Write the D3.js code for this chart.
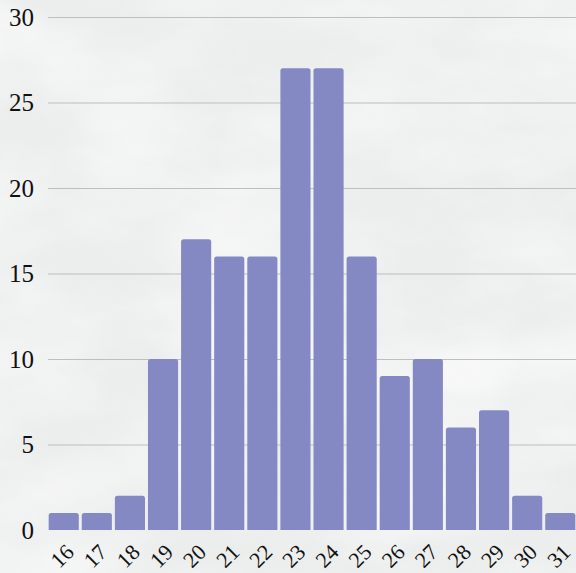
<!DOCTYPE html>
<html>
<head>
<meta charset="utf-8">
<script src="https://cdn.jsdelivr.net/npm/d3@7"></script>
<style>
  html, body { margin: 0; padding: 0; background: #f0f1f1; }
  svg { display: block; }
</style>
</head>
<body>
<div id="chart"></div>
<script>
// Distribution counts per value
const categories = ["16","17","18","19","20","21","22","23","24","25","26","27","28","29","30","31"];
const counts = [1, 1, 2, 10, 17, 16, 16, 27, 27, 16, 9, 10, 6, 7, 2, 1];
const yTicks = [0, 5, 10, 15, 20, 25, 30];

const width = 576, height = 573;
const margin = { top: 17, right: 0, bottom: 43, left: 48 };

const svg = d3.select("#chart").append("svg")
  .attr("width", width)
  .attr("height", height);

// Soft marbled paper background
const defs = svg.append("defs");
const f = defs.append("filter").attr("id", "marble")
  .attr("x", 0).attr("y", 0).attr("width", "100%").attr("height", "100%");
f.append("feTurbulence").attr("type", "fractalNoise")
  .attr("baseFrequency", "0.006 0.012").attr("numOctaves", 4).attr("seed", 7).attr("result", "noise");
f.append("feColorMatrix").attr("in", "noise").attr("type", "matrix")
  .attr("values", "0 0 0 0 1  0 0 0 0 1  0 0 0 0 1  0 0 0 -1.6 1.1")
  .attr("result", "light");
svg.append("rect").attr("width", width).attr("height", height).attr("fill", "#eceded");
svg.append("rect").attr("width", width).attr("height", height).attr("fill", "#ffffff")
  .attr("filter", "url(#marble)").attr("opacity", 0.7);

const x = d3.scaleBand()
  .domain(categories)
  .range([margin.left, width - margin.right])
  .paddingInner(0.09)
  .paddingOuter(0.02);

const y = d3.scaleLinear()
  .domain([0, 30])
  .range([height - margin.bottom, margin.top]);

// Horizontal gridlines
svg.append("g")
  .selectAll("line")
  .data(yTicks.filter(d => d > 0))
  .join("line")
  .attr("x1", margin.left)
  .attr("x2", width)
  .attr("y1", d => y(d) + 0.5)
  .attr("y2", d => y(d) + 0.5)
  .attr("stroke", "#bdbebf")
  .attr("stroke-width", 1);

// Y axis labels
const yAxis = d3.axisLeft(y).tickValues(yTicks).tickSize(0).tickPadding(0).tickFormat(d3.format("d"));
svg.append("g")
  .attr("transform", `translate(${margin.left - 14},0)`)
  .call(yAxis)
  .call(g => g.select(".domain").remove())
  .selectAll("text")
  .attr("font-family", "'Liberation Serif', 'DejaVu Serif', serif")
  .attr("font-size", 25)
  .attr("fill", "#111");

// Bars with slightly rounded tops
const r = 2.5;
svg.append("g")
  .selectAll("path")
  .data(categories.map((c, i) => ({ c, v: counts[i] })))
  .join("path")
  .attr("d", d => {
    const x0 = x(d.c), w = x.bandwidth();
    const y0 = y(d.v), yb = y(0);
    return `M${x0},${yb} V${y0 + r} Q${x0},${y0} ${x0 + r},${y0} H${x0 + w - r} Q${x0 + w},${y0} ${x0 + w},${y0 + r} V${yb} Z`;
  })
  .attr("fill", "#8589c3");

// X axis labels, rotated
const xAxis = d3.axisBottom(x).tickSize(0).tickPadding(0);
svg.append("g")
  .attr("transform", `translate(0,${y(0)})`)
  .call(xAxis)
  .call(g => g.select(".domain").remove())
  .selectAll("text")
  .attr("font-family", "'Liberation Serif', 'DejaVu Serif', serif")
  .attr("font-size", 22)
  .attr("fill", "#111")
  .attr("text-anchor", "end")
  .attr("dy", "0.35em")
  .attr("transform", "translate(6,18) rotate(-45)");
</script>
</body>
</html>
